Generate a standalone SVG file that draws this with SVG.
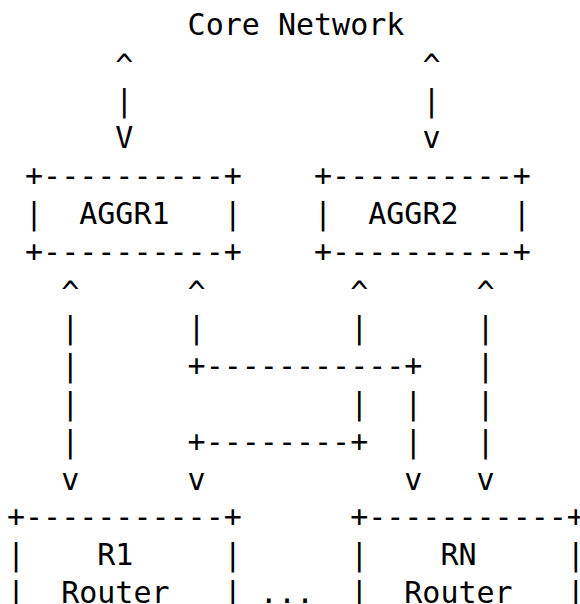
<svg xmlns="http://www.w3.org/2000/svg" width="580" height="604" viewBox="0 0 580 604">
<style>
text{font-family:"DejaVu Sans Mono","Liberation Mono",monospace;font-size:30px;fill:#000;white-space:pre}
</style>
<rect width="580" height="604" fill="#fff"/>
<g id="core">
<text x="187.6" y="34.7">Core Network</text>
</g>
<g id="aggr1">
<text x="25.06" y="186.3">+----------+</text>
<text x="25.06" y="224.2">|  AGGR1   |</text>
<text x="25.06" y="262.1">+----------+</text>
</g>
<g id="aggr2">
<text x="314.02" y="186.3">+----------+</text>
<text x="314.02" y="224.2">|  AGGR2   |</text>
<text x="314.02" y="262.1">+----------+</text>
</g>
<g id="r1">
<text x="7" y="527.4">+-----------+</text>
<text x="7" y="565.3">|    R1     |</text>
<text x="7" y="603.2">|  Router   |</text>
</g>
<g id="rn">
<text x="350.14" y="527.4">+-----------+</text>
<text x="350.14" y="565.3">|    RN     |</text>
<text x="350.14" y="603.2">|  Router   |</text>
</g>
<g id="ellipsis">
<text x="259.84" y="603.2">...</text>
</g>
<g id="connectors">
<text x="7" y="76">      ^                ^</text>
<text x="7" y="110.5">      |                |</text>
<text x="7" y="148.4">      V                v</text>
<text x="7" y="303">   ^      ^        ^      ^</text>
<text x="7" y="337.9">   |      |        |      |</text>
<text x="7" y="375.8">   |      +-----------+   |</text>
<text x="7" y="413.7">   |               |  |   |</text>
<text x="7" y="451.6">   |      +--------+  |   |</text>
<text x="7" y="489.5">   v      v           v   v</text>
</g>
</svg>
